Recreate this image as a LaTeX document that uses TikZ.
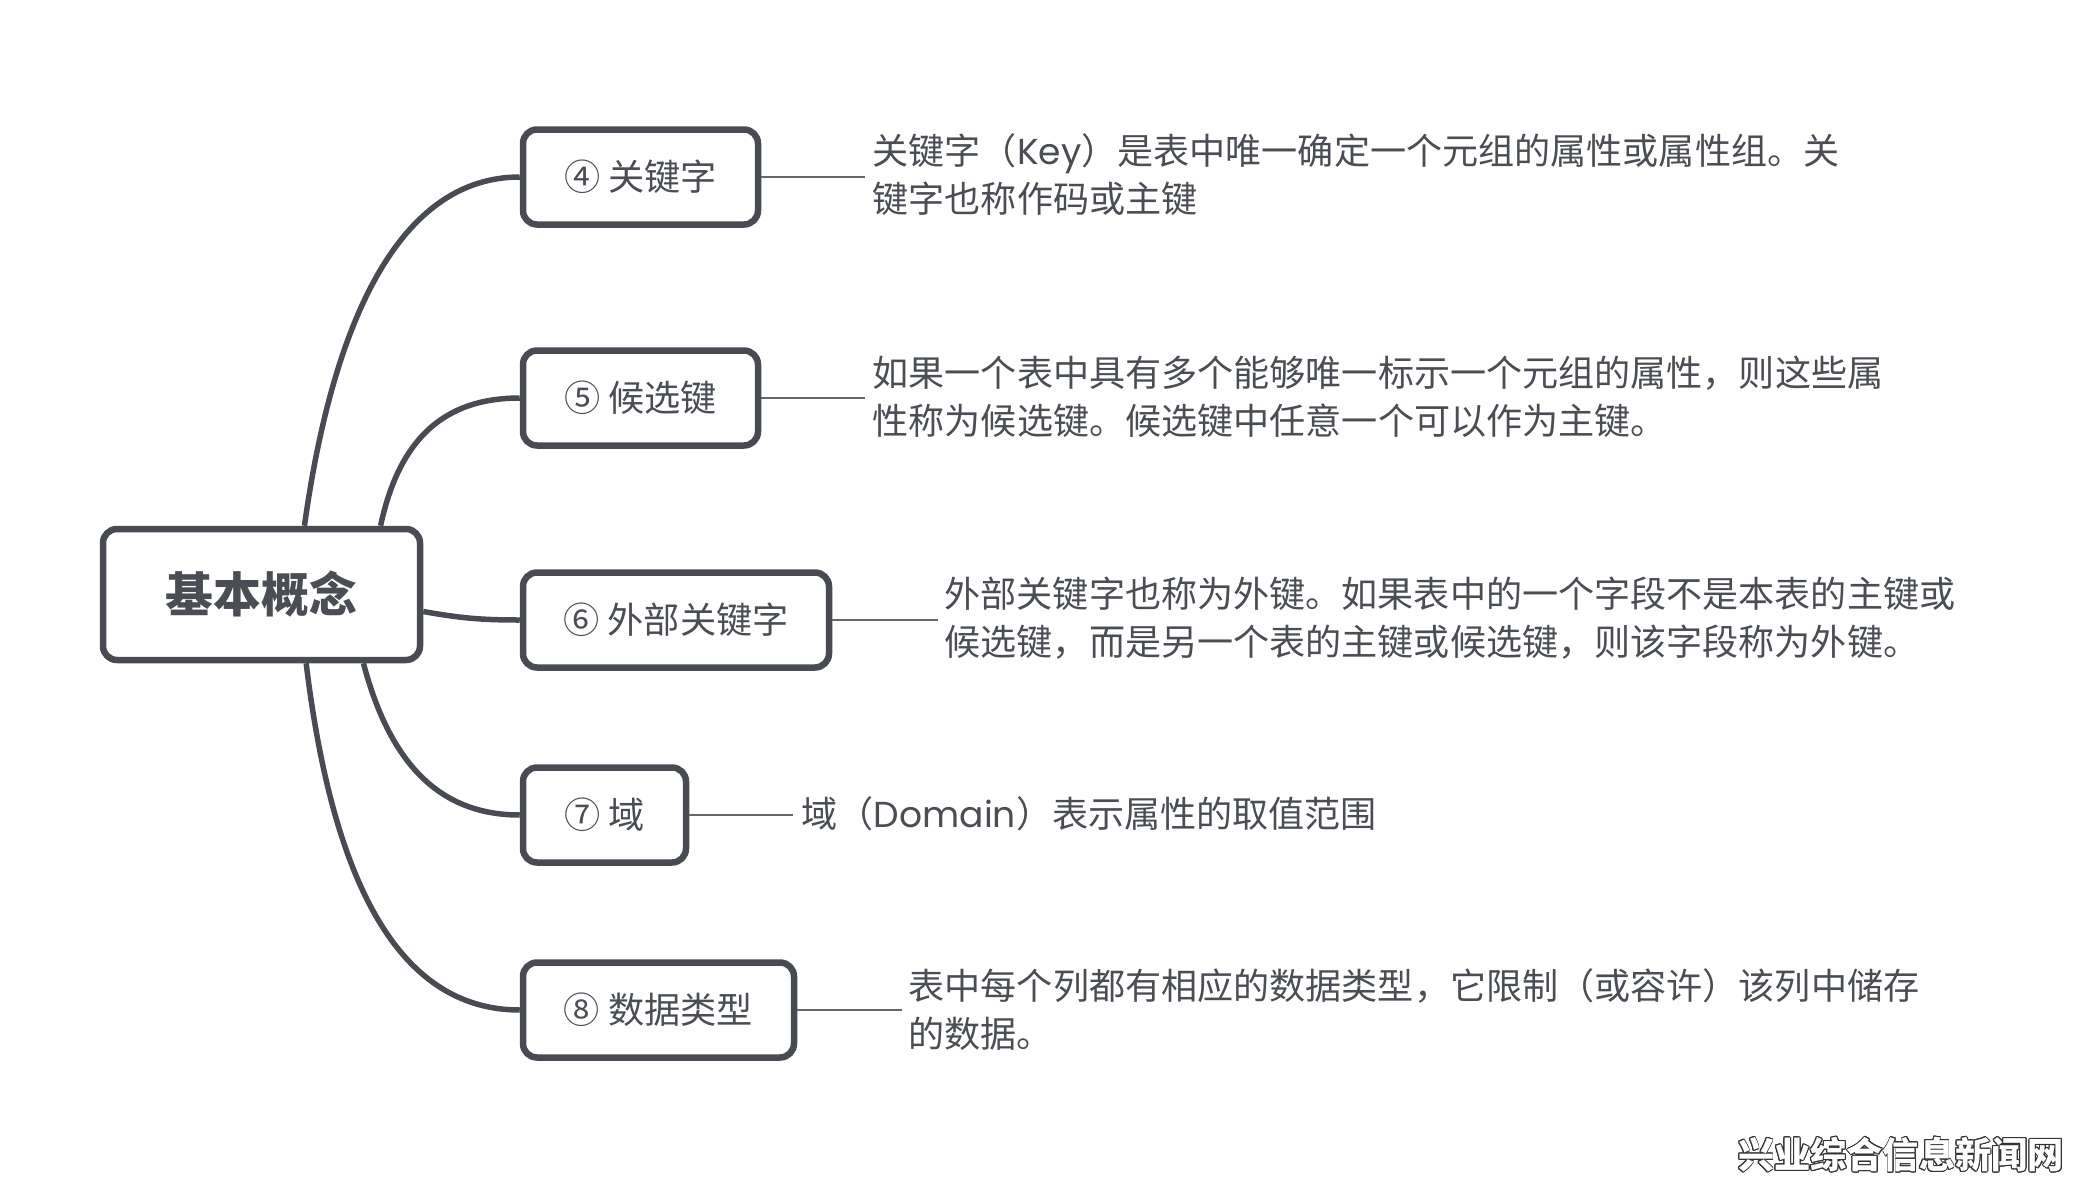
\documentclass[tikz,border=0pt]{standalone}
\usepackage{fontspec}
\usepackage[copies]{contour}
\setmainfont{Noto Sans CJK SC}
\newfontfamily\latinfont{Poppins}
\definecolor{linegray}{HTML}{484C52}
\definecolor{textgray}{HTML}{4A4E54}
\tikzset{
	main node/.style={shape=rectangle,rounded corners=.14cm,draw=linegray,line width=.065cm,fill=white,inner sep=0pt},
	topic node/.style={main node,minimum height=.95cm,text=textgray,font=\fontsize{10.3pt}{13.6pt}\selectfont},
	note node/.style={anchor=west,align=left,inner sep=0pt,text=textgray,font=\fontsize{10.27pt}{13.6pt}\selectfont},
	branch/.style={draw=linegray,line width=.055cm},
	twig/.style={draw=linegray!85,line width=.02cm}
}
\begin{document}
\begin{tikzpicture}
		\useasboundingbox (0,0) rectangle (20.74,-11.86);

		\node [main node,minimum width=3.17cm,minimum height=1.31cm,text=textgray,font=\fontsize{13.6pt}{16pt}\selectfont\bfseries] (root) at (2.615,-5.945) {基本概念};

		\node [topic node,minimum width=2.35cm] (key) at (6.405,-1.77) {④ 关键字};
		\node [topic node,minimum width=2.35cm] (cand) at (6.405,-3.98) {⑤ 候选键};
		\node [topic node,minimum width=3.06cm] (fkey) at (6.76,-6.20) {⑥ 外部关键字};
		\node [topic node,minimum width=1.63cm] (dom) at (6.045,-8.15) {⑦ 域};
		\node [topic node,minimum width=2.71cm] (type) at (6.585,-10.10) {⑧ 数据类型};

		\node [note node] (keytxt) at (8.72,-1.745) {关键字（{\latinfont Key}）是表中唯一确定一个元组的属性或属性组。关\\键字也称作码或主键};
		\node [note node] (candtxt) at (8.72,-3.965) {如果一个表中具有多个能够唯一标示一个元组的属性，则这些属\\性称为候选键。候选键中任意一个可以作为主键。};
		\node [note node] (fkeytxt) at (9.44,-6.185) {外部关键字也称为外键。如果表中的一个字段不是本表的主键或\\候选键，而是另一个表的主键或候选键，则该字段称为外键。};
		\node [note node] (domtxt) at (8.01,-8.135) {域（{\latinfont Domain}）表示属性的取值范围};
		\node [note node] (typetxt) at (9.08,-10.095) {表中每个列都有相应的数据类型，它限制（或容许）该列中储存\\的数据。};

		\coordinate (keyend) at (8.65,-1.77);
		\coordinate (candend) at (8.65,-3.98);
		\coordinate (fkeyend) at (9.38,-6.20);
		\coordinate (domend) at (7.93,-8.15);
		\coordinate (typeend) at (9.02,-10.10);

		\path[branch]
		(root.58) .. controls (3.33,-3.2) and (4.0,-1.77) .. (key.west)
		(root.30.2) .. controls (3.99,-4.4) and (4.43,-3.98) .. (cand.west)
		(root.-6.7) .. controls (4.6,-6.18) and (4.8,-6.20) .. (fkey.west)
		(root.-34) .. controls (3.91,-7.68) and (4.43,-8.15) .. (dom.west)
		(root.-57) .. controls (3.33,-8.85) and (4.0,-10.10) .. (type.west)
		;

		\path[twig]
		(key.east) edge (keyend)
		(cand.east) edge (candend)
		(fkey.east) edge (fkeyend)
		(dom.east) edge (domend)
		(type.east) edge (typeend)
		;

		\contourlength{.25pt}
		\node [inner sep=0pt,font=\fontsize{10.3pt}{12pt}\selectfont\bfseries] (mark) at (19.01,-11.55) {\contour{black!80}{\textcolor{white}{兴业综合信息新闻网}}};
\end{tikzpicture}
\end{document}
